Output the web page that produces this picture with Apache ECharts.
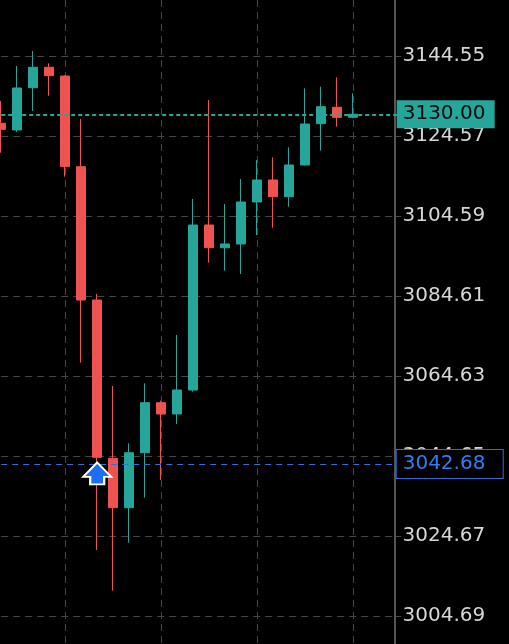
<!DOCTYPE html>
<html><head><meta charset="utf-8">
<style>html,body{margin:0;padding:0;background:#000;}#c{width:509px;height:644px;}</style>
<script src="https://cdn.jsdelivr.net/npm/echarts@6/dist/echarts.min.js"></script>
</head><body><div id="c"></div>
<script>
const categories = ['1','2','3','4','5','6','7','8','9','10','11','12','13','14','15','16','17','18','19','20','21','22','23','24','25','26'];
const opens  = [3127.74,3126.07,3136.63,3141.73,3139.55,3116.90,3083.61,3044.08,3031.74,3045.47,3057.96,3055.14,3061.13,3102.34,3096.67,3097.60,3108.09,3113.58,3109.41,3117.33,3127.64,3131.74,3129.24];
const closes = [3126.24,3136.56,3141.73,3139.63,3116.90,3083.61,3044.33,3031.74,3045.47,3057.96,3055.14,3061.13,3102.34,3096.67,3097.60,3108.09,3113.58,3109.41,3117.33,3127.57,3131.89,3129.24,3130.00];
const lows   = [3120.40,3125.57,3130.81,3134.63,3114.41,3067.95,3021.17,3011.01,3023.00,3034.24,3038.66,3052.64,3060.71,3092.93,3090.93,3090.10,3099.84,3101.67,3106.91,3117.20,3120.90,3126.89,3128.99];
const highs  = [3133.31,3142.05,3145.80,3142.73,3139.70,3128.82,3085.11,3062.13,3047.82,3062.81,3058.46,3074.87,3108.84,3133.56,3107.59,3113.83,3118.58,3119.25,3121.75,3136.48,3136.88,3139.23,3135.23];
const lastPrice = 3130.00;
const markPrice = 3042.68;
const markerIndex = 6;
const markerPrice = 3040.3;
const yMin = 2984.71, yMax = 3164.53, yStep = 19.98;

const UP = '#26a69a', DOWN = '#ef5350';
const GRID = '#464646';
const chart = echarts.init(document.getElementById('c'), null, {renderer: 'canvas'});
const data = opens.map((o, i) => [o, closes[i], lows[i], highs[i]]);
chart.setOption({
  backgroundColor: '#000',
  animation: false,
  grid: {left: 1.2, right: 107.8, top: -24, bottom: -52, outerBoundsMode: 'none'},
  xAxis: {
    type: 'category', data: categories, boundaryGap: false,
    axisLine: {show: false}, axisTick: {show: false}, axisLabel: {show: false},
    splitLine: {show: true, interval: (i) => i % 6 === 4, lineStyle: {color: GRID, type: [7, 5], width: 1}}
  },
  yAxis: {
    type: 'value', position: 'right', min: yMin, max: yMax, interval: yStep, offset: -6.7,
    axisLine: {show: true, lineStyle: {color: '#555555', width: 2}},
    axisTick: {show: true, length: 3, lineStyle: {color: '#555555'}},
    axisLabel: {margin: 8, color: '#d6d6d6', fontSize: 20, fontFamily: 'DejaVu Sans', formatter: v => v.toFixed(2)},
    splitLine: {show: true, lineStyle: {color: GRID, type: [7, 5], width: 1}}
  },
  series: [{
    type: 'candlestick', data: data, barWidth: 9, clip: false,
    itemStyle: {color: UP, color0: DOWN, borderColor: UP, borderColor0: DOWN, borderWidth: 1},
    markLine: {
      symbol: 'none', silent: true, animation: false,
      data: [
        {yAxis: lastPrice, lineStyle: {color: UP, type: [4, 3], width: 2},
         label: {show: true, position: 'end', distance: -4.5, formatter: p => Number(p.value).toFixed(2),
                 color: '#0a0a0a', backgroundColor: UP, fontSize: 20, fontFamily: 'DejaVu Sans',
                 lineHeight: 20, padding: [4, 6, 4, 6], width: 86}},
        {yAxis: markPrice, lineStyle: {color: '#2f6fd8', type: [6, 5], width: 1},
         label: {show: true, position: 'end', distance: -4.5, formatter: p => Number(p.value).toFixed(2),
                 color: '#2f7ff0', backgroundColor: '#000', borderColor: '#2f6fd8', borderWidth: 1,
                 fontSize: 20, fontFamily: 'DejaVu Sans', lineHeight: 20, padding: [4, 6, 4, 6], width: 94}}
      ]
    },
    markPoint: {
      silent: true, animation: false,
      data: [{coord: [categories[markerIndex], markerPrice],
        symbol: 'path://M15,0 L30,15 L22.5,15 L22.5,23 L7.5,23 L7.5,15 L0,15 Z',
        symbolSize: [28, 22],
        itemStyle: {color: '#1d6ff2', borderColor: '#ffffff', borderWidth: 2},
        label: {show: false}}]
    }
  }]
});
</script>
</body></html>
